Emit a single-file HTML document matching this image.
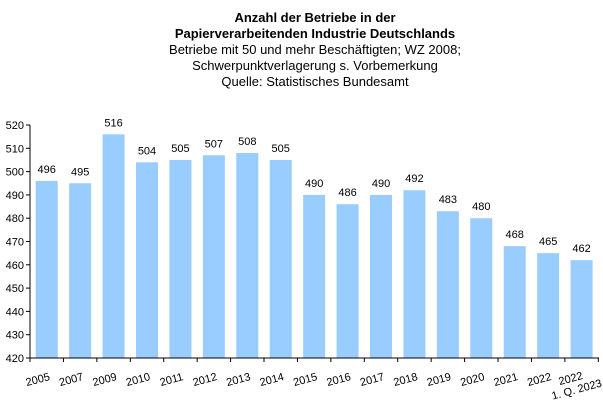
<!DOCTYPE html>
<html><head><meta charset="utf-8"><style>
body{margin:0;background:#fff;font-family:"Liberation Sans",Arial,sans-serif;}
</style></head><body>
<svg width="603" height="400" xmlns="http://www.w3.org/2000/svg" font-family="Liberation Sans, Arial, sans-serif">
<rect width="603" height="400" fill="#fff"/>
<g text-anchor="middle" font-size="13" fill="#000">
<text x="315" y="22" font-weight="bold">Anzahl der Betriebe in  der</text>
<text x="315" y="38" font-weight="bold">Papierverarbeitenden Industrie Deutschlands</text>
<text x="315" y="54">Betriebe mit 50 und mehr  Beschäftigten; WZ 2008;</text>
<text x="315" y="70">Schwerpunktverlagerung  s. Vorbemerkung</text>
<text x="315" y="86">Quelle:  Statistisches Bundesamt</text>
</g>
<g id="bars"></g>
<g stroke="#000" stroke-width="1" fill="none" id="axes"></g>
<g id="txt" font-size="11" fill="#000"></g>
<script>
var vals=[496,495,516,504,505,507,508,505,490,486,490,492,483,480,468,465,462];
var labs=["2005","2007","2009","2010","2011","2012","2013","2014","2015","2016","2017","2018","2019","2020","2021","2022",""];
var x0=30,w=33.43,y0=358,k=2.33;
var ns="http://www.w3.org/2000/svg";
function el(t,a,p,tx){var e=document.createElementNS(ns,t);for(var i in a)e.setAttribute(i,a[i]);if(tx!=null)e.textContent=tx;document.getElementById(p).appendChild(e);}
vals.forEach(function(v,i){var cx=x0+w*(i+0.5);var y=y0-(v-420)*k;
el("rect",{x:cx-11,y:y,width:22,height:y0-y,fill:"#99CCFF"},"bars");
el("text",{x:cx,y:y-8,"text-anchor":"middle"},"txt",String(v));
var lx=cx-8,ly=383;
if(labs[i])el("text",{x:lx,y:ly,"text-anchor":"middle",transform:"rotate(-15 "+lx+" "+ly+")"},"txt",labs[i]);
});
var cx=x0+w*16.5;
el("text",{x:cx-10,y:382,"text-anchor":"middle",transform:"rotate(-15 "+(cx-10)+" 382)"},"txt","2022");
el("text",{x:cx-4,y:393,"text-anchor":"middle",transform:"rotate(-15 "+(cx-4)+" 393)"},"txt","1. Q. 2023");
el("line",{x1:x0,y1:125,x2:x0,y2:y0},"axes");
el("line",{x1:x0,y1:y0,x2:599,y2:y0},"axes");
for(var v=420;v<=520;v+=10){var y=y0-(v-420)*k;el("line",{x1:x0-4,y1:y,x2:x0,y2:y},"axes");
el("text",{x:24,y:y+4,"text-anchor":"end"},"txt",String(v));}
for(var i=0;i<=17;i++){var x=x0+w*i;el("line",{x1:x,y1:y0,x2:x,y2:y0+4},"axes");}
</script>
</svg>
</body></html>
